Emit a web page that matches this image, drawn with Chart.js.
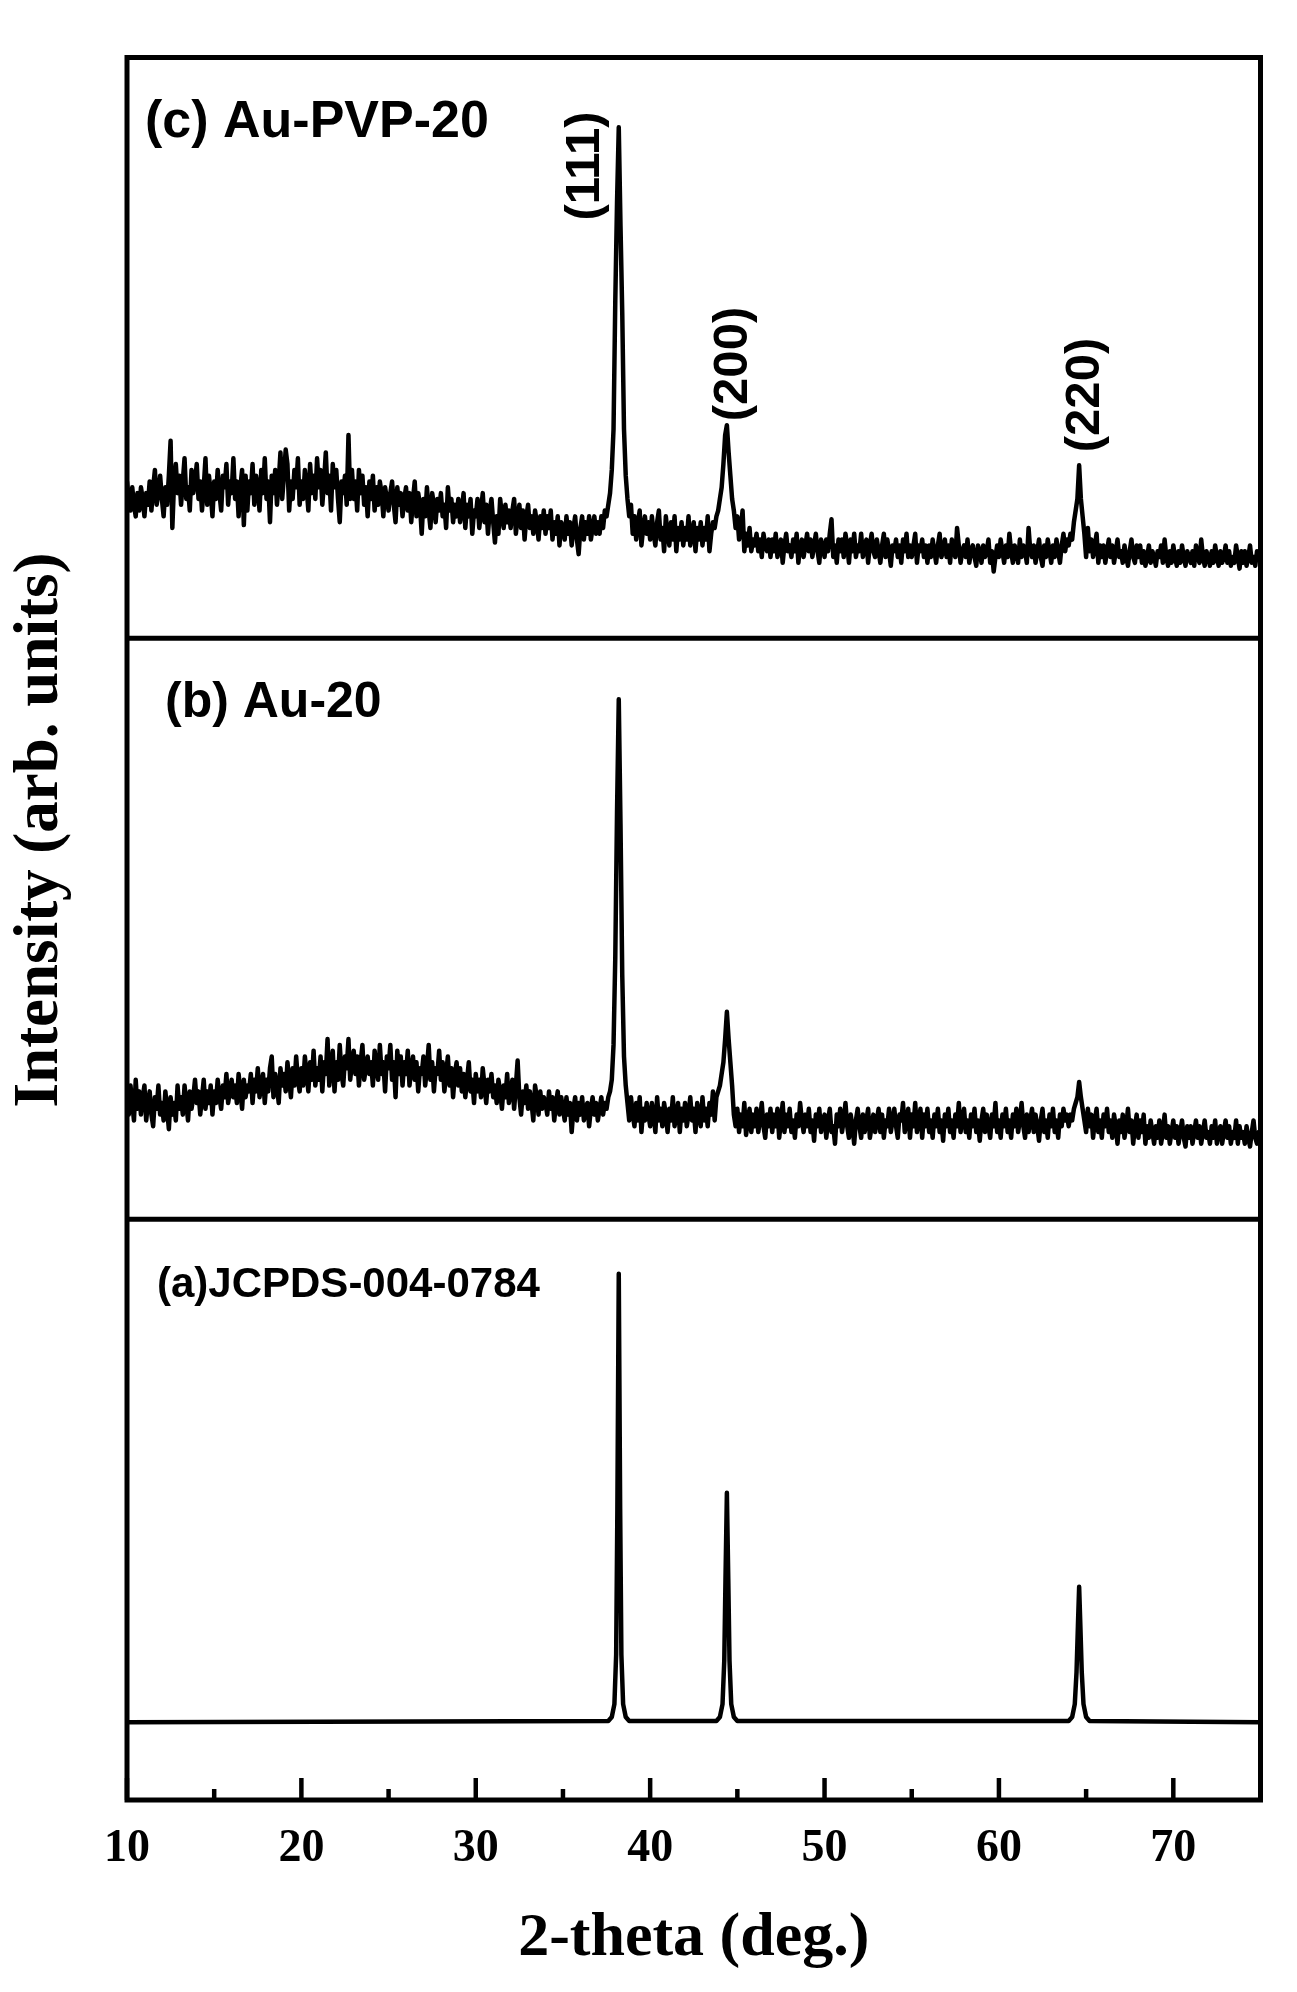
<!DOCTYPE html>
<html>
<head>
<meta charset="utf-8">
<script src="https://cdn.jsdelivr.net/npm/chart.js@4.4.0/dist/chart.umd.min.js"></script>
<style>
  html, body { margin: 0; padding: 0; background: #fff; }
  #wrap { width: 1297px; height: 1992px; }
</style>
</head>
<body>
<div id="wrap"><canvas id="xrd" width="1297" height="1992"></canvas></div>
<script>
// 2-theta scan: 10.0 .. 75.0 deg, 0.1 deg step
const scanStart = 10;
const scanStep = 0.1;

// (c) Au-PVP-20, one row per degree
const auPvp20 = [
  27, 24, 22, 26, 23, 21, 25, 22, 26, 24,
  21, 25, 23, 27, 22, 26, 29, 23, 25, 28,
  24, 21, 26, 23, 28, 34, 19, 27, 30, 25,
  28, 23, 27, 31, 24, 26, 22, 29, 25, 27,
  30, 24, 27, 22, 26, 31, 23, 28, 25, 21,
  27, 24, 29, 25, 22, 28, 26, 30, 23, 27,
  25, 31, 24, 27, 21, 26, 29, 19.5, 28, 22,
  27, 25, 30, 23, 28, 26, 22, 29, 25, 31,
  24, 27, 20, 28, 25, 29, 23, 27, 32, 24,
  28, 32.5, 30, 22, 27, 24, 29, 26, 31, 23,
  27, 24, 29, 26, 22, 30, 25, 28, 24, 31,
  26, 29, 23, 27, 32, 25, 28, 22, 30, 26,
  29, 24, 20, 27, 25, 28, 23, 35, 24, 29,
  24, 27, 22, 29, 25, 28, 23, 26, 21, 27,
  24, 28, 22, 26, 23, 27, 25, 21, 26, 24,
  22, 25, 27, 23, 20, 26, 23, 25, 21, 24,
  26, 22, 25, 20, 24, 27, 21, 25, 23, 18,
  24, 21, 26, 22, 19, 25, 23, 20, 24, 22,
  25, 21, 23, 19, 26, 22, 24, 20, 23, 21,
  24, 20, 22, 25, 19, 23, 21, 24, 18, 22,
  21, 24, 19, 22, 25, 20, 23, 18, 22, 24,
  20, 16.5, 21, 18, 24, 21, 19, 23, 20, 22,
  19, 22, 24, 18, 21, 23, 19, 22, 17, 21,
  23, 19, 21, 18, 22, 20, 17, 21, 19, 22,
  18, 21, 19, 22, 17, 20, 18, 21, 16, 20,
  19, 17, 21, 18, 20, 16, 19, 21, 17, 14.5,
  19, 21, 17, 20, 18, 21, 17, 19, 21, 18,
  20, 18, 21, 19, 22, 21, 23, 25, 29, 36,
  58, 75, 88, 71, 56, 36, 28, 24, 21, 23,
  18, 21, 17, 20, 22, 16, 19, 21, 18, 20,
  17, 21, 18, 16, 20, 22, 17, 19, 15, 21,
  18, 16, 20, 17, 21, 15, 19, 17, 20, 16,
  19, 17, 21, 16, 18, 20, 15, 19, 17, 20,
  16, 19, 17, 21, 15, 18, 20, 19, 21, 22,
  24, 26, 30, 35, 36.7, 32, 28, 24, 22, 19,
  21, 17, 19, 22, 15, 18, 16, 19, 15, 17,
  16, 18, 15, 17, 14, 18, 16, 15, 17, 14,
  17, 15, 18, 14, 16, 17, 13, 16, 18, 15,
  16, 14, 17, 15, 18, 13, 16, 17, 14, 16,
  18, 15, 17, 14, 16, 18, 15, 13, 17, 16,
  14, 17, 15, 18, 20.5, 14, 16, 13, 17, 15,
  17, 14, 18, 16, 13, 17, 15, 18, 14, 16,
  15, 18, 14, 16, 17, 13, 16, 18, 15, 14,
  17, 15, 13, 16, 18, 14, 17, 15, 12.5, 16,
  15, 17, 14, 16, 13, 17, 15, 18, 14, 16,
  14, 16, 18, 13, 16, 15, 17, 14, 16, 13,
  16, 14, 17, 15, 13, 16, 18, 14, 15, 17,
  14, 16, 13, 17, 15, 14, 19, 16, 13, 15,
  16, 14, 17, 13, 15, 16, 14, 12.5, 16, 15,
  13, 16, 14, 15, 17, 13, 15, 11.5, 14, 16,
  14, 17, 15, 13, 16, 14, 18, 15, 13, 16,
  15, 13, 17, 14, 16, 15, 13, 19, 15, 14,
  16, 13, 15, 17, 14, 12.5, 16, 14, 17, 15,
  13, 16, 14, 17, 15, 13, 16, 18, 15, 17,
  16, 18, 17, 20, 22, 24, 29.8, 24, 21, 18,
  14, 19, 15, 17, 14, 16, 18, 13, 16, 14,
  16, 13, 15, 17, 14, 16, 13, 15, 17, 14,
  15, 13, 16, 14, 12.5, 15, 17, 14, 13, 16,
  14, 16, 13, 15, 12.5, 14, 16, 13, 15, 14,
  12.5, 15, 14, 16, 13, 17, 14, 12.5, 15, 13,
  16, 14, 12.5, 15, 13, 16, 14, 12.5, 15, 14,
  13, 15, 12.5, 16, 14, 13, 17, 14, 12.5, 15,
  14, 12.5, 15, 13, 16, 14, 12.5, 15, 13, 14,
  16, 13, 15, 12.5, 14, 13, 16, 14, 12, 15,
  13, 15, 12.5, 14, 16, 13, 14, 12.5, 15, 14,
  14
];

// (b) Au-20, one row per degree
const au20 = [
  21, 18, 23, 20, 17, 24, 19, 22, 18, 21,
  23, 17, 20, 22, 18, 16, 21, 19, 23, 18,
  20, 17, 22, 19, 15.5, 21, 18, 20, 17, 23,
  19, 21, 18, 23, 20, 17, 22, 19, 21, 24,
  20, 22, 18, 21, 24, 19, 22, 20, 23, 18,
  22, 20, 24, 21, 19, 23, 21, 25, 20, 22,
  24, 21, 23, 20, 25, 22, 19, 24, 21, 23,
  22, 25, 20, 24, 22, 26, 21, 23, 25, 20,
  24, 22, 26, 28, 21, 25, 23, 20, 26, 23,
  25, 22, 27, 24, 21, 26, 23, 28, 24, 22,
  26, 23, 28, 25, 22, 27, 24, 29, 23, 26,
  24, 28, 22, 27, 25, 31, 23, 26, 29, 22,
  27, 24, 30, 25, 23, 28, 26, 31, 24, 27,
  29, 25, 28, 23, 27, 30, 24, 26, 28, 25,
  27, 23, 29, 26, 24, 30, 25, 27, 22, 28,
  26, 30, 24, 27, 21, 29, 25, 28, 23, 27,
  25, 29, 23, 26, 28, 24, 27, 22, 26, 25,
  28, 23, 26, 30, 24, 27, 22, 26, 25, 29,
  24, 27, 22, 25, 28, 23, 26, 21, 25, 27,
  23, 26, 22, 25, 21, 24, 27, 22, 24, 20,
  25, 22, 24, 21, 26, 23, 20, 24, 22, 25,
  21, 23, 20, 24, 22, 19, 23, 21, 25, 20,
  22, 24, 19, 23, 27.3, 21, 18, 22, 20, 23,
  19, 22, 20, 17, 23, 21, 18, 22, 19, 21,
  20, 18, 22, 19, 21, 17, 20, 22, 18, 21,
  19, 17, 21, 18, 20, 15, 19, 21, 17, 20,
  18, 21, 17, 19, 20, 16, 19, 21, 18, 20,
  17, 19, 21, 18, 20, 19, 21, 22, 24, 30,
  45, 70, 89.5, 68, 42, 28, 23, 20, 17, 21,
  18, 16, 20, 17, 21, 15, 19, 17, 20, 18,
  16, 20, 18, 15, 21, 17, 19, 16, 20, 18,
  15, 19, 17, 21, 16, 18, 20, 15, 19, 17,
  20, 16, 18, 21, 17, 19, 15, 20, 18, 16,
  21, 17, 19, 16, 20, 18, 22, 17, 21, 22,
  23, 25, 27, 31, 35.7, 31, 27, 23, 18, 16,
  19, 15, 18, 16, 20, 14.5, 17, 19, 15, 18,
  16, 19, 15, 17, 20, 16, 14, 18, 16, 19,
  15, 18, 16, 19, 14, 17, 20, 15, 18, 16,
  19, 15, 17, 14, 18, 16, 20, 17, 15, 18,
  16, 19, 15, 17, 13.5, 18, 16, 19, 15, 17,
  18, 14, 17, 19, 15, 16, 13, 18, 16, 19,
  15, 17, 20, 16, 14, 18, 16, 13, 17, 19,
  16, 14, 18, 15, 17, 19, 14, 16, 18, 15,
  17, 19, 15, 18, 14, 17, 16, 19, 15, 17,
  19, 16, 14, 18, 17, 20, 15, 17, 19, 14,
  18, 16, 20, 15, 17, 19, 14, 18, 16, 19,
  15, 17, 14, 18, 16, 19, 15, 17, 13.5, 18,
  16, 19, 15, 17, 14, 18, 16, 20, 15, 17,
  19, 15, 17, 14, 18, 16, 19, 15, 17, 13.5,
  17, 19, 15, 18, 16, 14, 18, 16, 20, 15,
  17, 14, 18, 16, 19, 15, 17, 14, 18, 16,
  19, 15, 17, 20, 16, 14, 18, 15, 17, 19,
  15, 18, 16, 13.5, 17, 19, 15, 17, 14, 18,
  16, 19, 15, 17, 14, 18, 16, 19, 17, 18,
  16, 18, 17, 19, 20, 21, 23.6, 21, 19, 17,
  15, 19, 16, 18, 14, 17, 19, 15, 17, 14,
  18, 16, 19, 15, 17, 14, 18, 16, 13, 17,
  15, 18, 14, 16, 19, 15, 17, 13, 16, 18,
  14, 17, 15, 18, 13, 16, 14, 17, 15, 13,
  16, 14, 17, 13, 15, 18, 14, 16, 13, 15,
  17, 14, 16, 13, 15, 17, 14, 12.5, 16, 14,
  16, 13, 15, 17, 14, 16, 13, 15, 17, 14,
  15, 13, 16, 14, 17, 13, 15, 16, 13, 15,
  17, 14, 16, 13, 15, 14, 17, 13, 16, 14,
  15, 13, 16, 14, 12.5, 15, 17, 14, 13, 15,
  14
];

// (a) JCPDS-004-0784 reference pattern
const refAngles = [10, 37.6, 37.8, 37.95, 38.05, 38.12, 38.2, 38.28, 38.35, 38.45, 38.6, 38.8,
  43.8, 44.0, 44.15, 44.25, 44.32, 44.4, 44.48, 44.55, 44.65, 44.8, 45.0,
  64.0, 64.2, 64.35, 64.45, 64.53, 64.6, 64.67, 64.75, 64.85, 65.0, 65.2, 75];
const refIntensity = [13.4, 13.6, 14.3, 16.5, 25, 50, 90.6, 50, 25, 16.5, 14.3, 13.6,
  13.6, 14.3, 16.5, 24, 38, 52.9, 38, 24, 16.5, 14.3, 13.6,
  13.6, 14.3, 16.5, 22, 30, 36.7, 30, 22, 16.5, 14.3, 13.6, 13.4];

const tickLabels = [10, 20, 30, 40, 50, 60, 70];
const minorTicks = [15, 25, 35, 45, 55, 65];
const panelNames = ['(a)JCPDS-004-0784', '(b) Au-20', '(c) Au-PVP-20'];
const peakNames = ['(111)', '(200)', '(220)'];

// each panel occupies 100 units of the shared y axis
const panelOffset = [0, 100, 200];

function scanPoints(values, offset) {
  return values.map((v, i) => ({ x: +(scanStart + i * scanStep).toFixed(1), y: v + offset }));
}

const refPoints = refAngles.map((a, i) => ({ x: a, y: refIntensity[i] + panelOffset[0] }));

const serif = 'Liberation Serif, Times New Roman, serif';
const sans = 'Liberation Sans, Arial, sans-serif';

const framePlugin = {
  id: 'frame',
  afterDraw(chart) {
    const { ctx, chartArea: a, scales: { x, y } } = chart;
    const line = (x1, y1, x2, y2) => {
      ctx.beginPath(); ctx.moveTo(x1, y1); ctx.lineTo(x2, y2); ctx.stroke();
    };
    ctx.save();
    ctx.strokeStyle = '#000';
    ctx.fillStyle = '#000';
    ctx.lineWidth = 5;
    ctx.strokeRect(a.left, a.top, a.right - a.left, a.bottom - a.top);
    panelOffset.slice(1).forEach(v => {
      const py = y.getPixelForValue(v);
      line(a.left, py, a.right, py);
    });

    ctx.lineWidth = 4.5;
    tickLabels.forEach(v => {
      const px = x.getPixelForValue(v);
      line(px, a.bottom, px, a.bottom - 22);
    });
    minorTicks.forEach(v => {
      const px = x.getPixelForValue(v);
      line(px, a.bottom, px, a.bottom - 11);
    });

    // panel names
    ctx.textAlign = 'left';
    ctx.textBaseline = 'alphabetic';
    ctx.font = 'bold 52px ' + sans;
    ctx.fillText(panelNames[2], 145, 137);
    ctx.font = 'bold 50px ' + sans;
    ctx.fillText(panelNames[1], 165, 717);
    ctx.font = 'bold 42px ' + sans;
    ctx.fillText(panelNames[0], 157, 1297);

    // peak indices, rotated
    ctx.font = 'bold 49px ' + sans;
    ctx.textAlign = 'center';
    ctx.textBaseline = 'middle';
    [[585, 166], [733, 364], [1085, 395]].forEach((p, i) => {
      ctx.save();
      ctx.translate(p[0], p[1]);
      ctx.rotate(-Math.PI / 2);
      ctx.fillText(peakNames[i], 0, 0);
      ctx.restore();
    });

    // y axis title
    ctx.font = 'bold 63px ' + serif;
    ctx.textBaseline = 'alphabetic';
    ctx.translate(57, 830);
    ctx.rotate(-Math.PI / 2);
    ctx.fillText('Intensity (arb. units)', 0, 0);
    ctx.restore();
  }
};

const lineStyle = {
  borderColor: '#000',
  borderWidth: 4.5,
  borderJoinStyle: 'round',
  pointRadius: 0,
  tension: 0,
  fill: false
};

new Chart(document.getElementById('xrd'), {
  type: 'line',
  data: {
    datasets: [
      { label: panelNames[0], data: refPoints, ...lineStyle },
      { label: panelNames[1], data: scanPoints(au20, panelOffset[1]), ...lineStyle },
      { label: panelNames[2], data: scanPoints(auPvp20, panelOffset[2]), ...lineStyle }
    ]
  },
  options: {
    responsive: false,
    animation: false,
    layout: { padding: { left: 127, right: 36.5, top: 57.5, bottom: 0 } },
    plugins: { legend: { display: false }, tooltip: { enabled: false } },
    scales: {
      x: {
        type: 'linear',
        min: 10,
        max: 75,
        grid: { display: false, drawTicks: false },
        border: { display: false },
        afterBuildTicks: s => { s.ticks = tickLabels.map(v => ({ value: v })); },
        afterFit: s => { s.height = 192; },
        ticks: {
          padding: 22,
          color: '#000',
          autoSkip: false,
          maxRotation: 0,
          font: { family: serif, weight: 'bold', size: 46 }
        },
        title: {
          display: true,
          text: '2-theta (deg.)',
          color: '#000',
          font: { family: serif, weight: 'bold', size: 62 },
          padding: { top: 0, bottom: 16 }
        }
      },
      y: { type: 'linear', min: 0, max: 300, display: false }
    }
  },
  plugins: [framePlugin]
});
</script>
</body>
</html>
